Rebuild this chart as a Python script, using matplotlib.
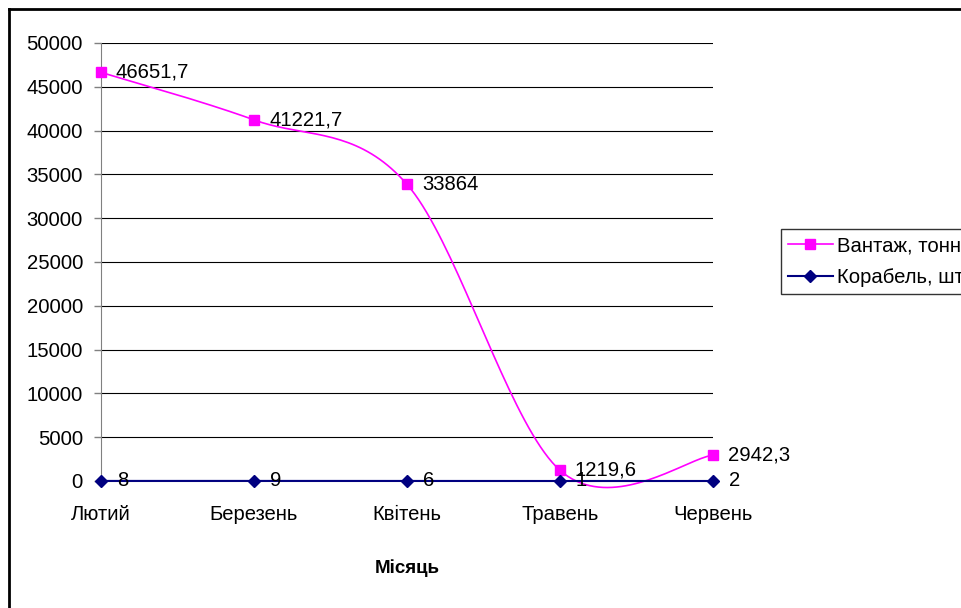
import numpy as np
import matplotlib
matplotlib.use('Agg')
from matplotlib import pyplot as plt
from matplotlib.lines import Line2D

plt.rcParams['font.family'] = ['Liberation Sans', 'DejaVu Sans']

# Data
months = ['Лютий', 'Березень', 'Квітень', 'Травень', 'Червень']
cargo = [46651.7, 41221.7, 33864, 1219.6, 2942.3]
cargo_labels = ['46651,7', '41221,7', '33864', '1219,6', '2942,3']
ships = [8, 9, 6, 1, 2]
ship_labels = ['8', '9', '6', '1', '2']
yticks = list(range(0, 50001, 5000))


def smooth(xs, ys, n=40):
    # Excel-like smoothing: cubic Bezier with Catmull-Rom control points
    xs = np.asarray(xs, float)
    ys = np.asarray(ys, float)
    px = np.concatenate([[xs[0]], xs, [xs[-1]]])
    py = np.concatenate([[ys[0]], ys, [ys[-1]]])
    out_x, out_y = [], []
    t = np.linspace(0, 1, n)
    for i in range(1, len(px) - 2):
        p0 = np.array([px[i], py[i]])
        p3 = np.array([px[i + 1], py[i + 1]])
        c1 = p0 + (p3 - np.array([px[i - 1], py[i - 1]])) / 6
        c2 = p3 - (np.array([px[i + 2], py[i + 2]]) - p0) / 6
        b = ((1 - t) ** 3)[:, None] * p0 + (3 * (1 - t) ** 2 * t)[:, None] * c1 \
            + (3 * (1 - t) * t ** 2)[:, None] * c2 + (t ** 3)[:, None] * p3
        out_x.extend(b[:, 0])
        out_y.extend(b[:, 1])
    return out_x, out_y


fig = plt.figure(figsize=(9.62, 6.08), dpi=100)
ax = fig.add_axes([101 / 962, 1 - 481 / 608, 612 / 962, 438 / 608])

x = np.arange(len(months))
sx, sy = smooth(x, cargo)
ax.plot(sx, sy, color='#FF00FF', lw=1.2, clip_on=False, zorder=3)
ax.plot(x, cargo, ls='none', marker='s', ms=7.5, color='#FF00FF', clip_on=False, zorder=4)
ax.plot(x, ships, color='#000080', lw=1.5, marker='D', ms=6.5, clip_on=False, zorder=4)

fs = 14.6
for xi, yi, lab in zip(x, cargo, cargo_labels):
    ax.annotate(lab, (xi, yi), xytext=(15, 0), textcoords='offset pixels',
                va='center', ha='left', fontsize=fs, zorder=5, annotation_clip=False)
for xi, yi, lab in zip(x, ships, ship_labels):
    ax.annotate(lab, (xi, yi), xytext=(16, 0), textcoords='offset pixels',
                va='center', ha='left', fontsize=fs, zorder=5, annotation_clip=False)

ax.set_xlim(0, len(months) - 1)
ax.set_ylim(0, 50000)
ax.set_yticks(yticks)
ax.set_yticklabels([str(v) for v in yticks])
ax.set_xticks(x)
ax.set_xticklabels(months)
ax.tick_params(axis='y', length=5, width=1, color='#808080', labelsize=fs, pad=8)
ax.tick_params(axis='x', length=0, labelsize=fs, pad=17)
ax.yaxis.grid(True, color='#000000', lw=0.8)
ax.set_axisbelow(True)
for s in ['top', 'right']:
    ax.spines[s].set_visible(False)
ax.spines['left'].set_color('#808080')
ax.spines['bottom'].set_color('#808080')
ax.set_xlabel('Місяць', fontsize=13.5, fontweight='bold', labelpad=26)

handles = [
    Line2D([], [], color='#FF00FF', lw=1.2, marker='s', ms=7.5),
    Line2D([], [], color='#000080', lw=1.5, marker='D', ms=6.5),
]
leg = fig.legend(handles, ['Вантаж, тонн', 'Корабель, шт.'], loc='upper left',
                 bbox_to_anchor=(781 / 962, 1 - 229 / 608), bbox_transform=fig.transFigure,
                 borderaxespad=0, fontsize=fs, frameon=True, fancybox=False,
                 edgecolor='black', handlelength=2.2, handletextpad=0.2,
                 labelspacing=0.62, borderpad=0.35)
leg.get_frame().set_linewidth(1)

# chart area border (cut off at right and bottom)
fig.add_artist(Line2D([9 / 962, 9 / 962], [0, 1 - 9 / 608], color='black', lw=2,
                      transform=fig.transFigure))
fig.add_artist(Line2D([9 / 962, 1], [1 - 9 / 608, 1 - 9 / 608], color='black', lw=2,
                      transform=fig.transFigure))

fig.savefig('out.png', dpi=100)
